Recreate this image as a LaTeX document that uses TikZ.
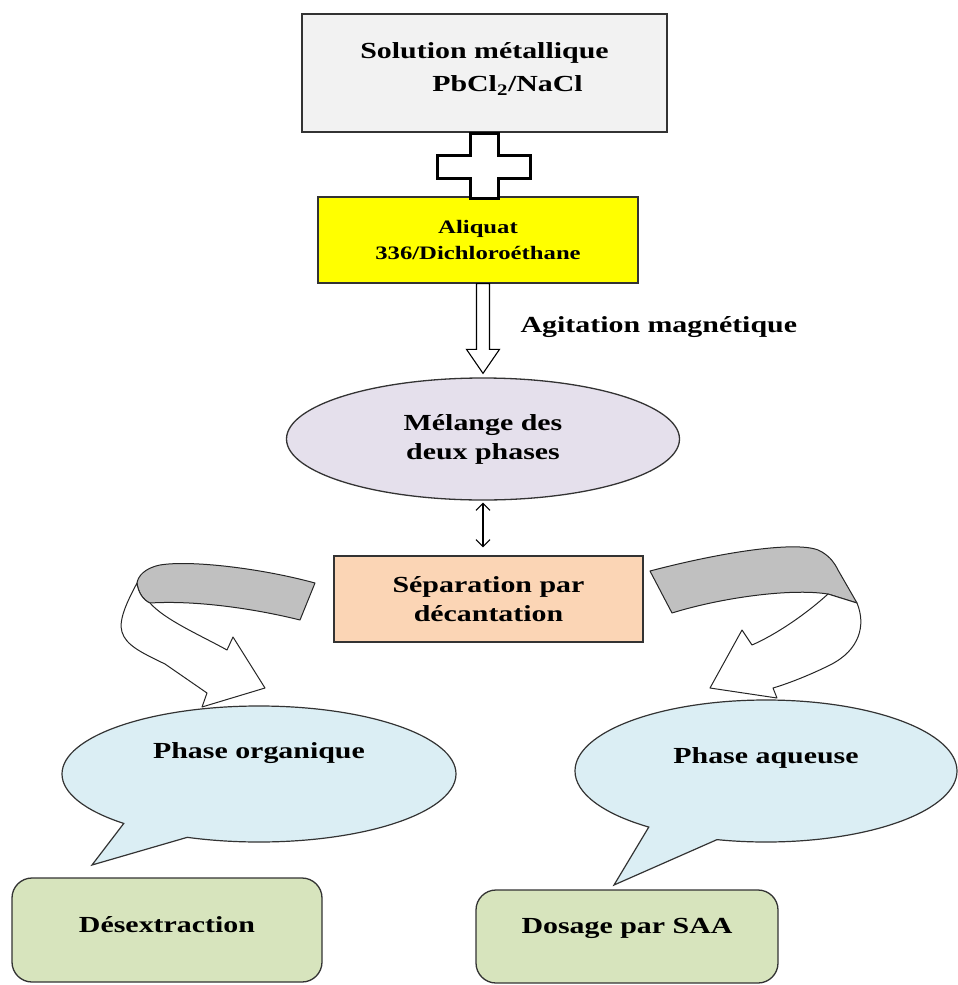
\documentclass[tikz,border=0pt]{standalone}
\usepackage{fontspec}
\setmainfont{Liberation Serif}[FakeStretch=1.3]
\usetikzlibrary{arrows.meta,positioning,shapes.geometric,shapes.callouts,calc}

\definecolor{boxgray}{HTML}{F2F2F2}
\definecolor{aliqyellow}{HTML}{FFFF00}
\definecolor{mixlilac}{HTML}{E5E0EC}
\definecolor{sepsalmon}{HTML}{FBD5B5}
\definecolor{phaseblue}{HTML}{DBEEF4}
\definecolor{stepgreen}{HTML}{D7E4BD}
\definecolor{ribbongray}{HTML}{C0C0C0}

\begin{document}
\begin{tikzpicture}[
  x=1pt, y=-1pt,
  >=Latex,
  txt/.style={font=\fontsize{23}{29}\selectfont\bfseries},
  box/.style={draw=black!80, line width=1.3pt, align=center, inner sep=3pt, txt},
  oval/.style={ellipse, draw=black!80, line width=1.3pt, fill=mixlilac, align=center, inner sep=0pt, txt},
  bubble/.style={ellipse callout, draw=black!80, line width=1.2pt, fill=phaseblue, inner sep=0pt},
  result/.style={draw=black!80, line width=1.3pt, rounded corners=20pt, fill=stepgreen, align=center, txt},
  hollow/.style={draw, fill=white, line width=1.1pt, line join=miter},
  plusline/.style={draw, fill=white, line width=3pt, line join=miter},
  dbl/.style={{Straight Barb[length=7pt,width=14pt]}-{Straight Barb[length=7pt,width=14pt]}, line width=1.1pt},
  ribbon/.style={draw=black!85, line width=1pt, line join=round},
]
\useasboundingbox (0,0) rectangle (958,985);

% --- inputs ---
\node[box, fill=boxgray, minimum width=365pt, minimum height=118pt, text depth=12pt,
  font=\fontsize{23}{33}\selectfont\bfseries] (sol) at (484.5,73)
  {Solution métallique\\\hspace*{46pt}PbCl\textsubscript{2}/NaCl};
\node[box, fill=aliqyellow, minimum width=320pt, minimum height=86pt,
  font=\fontsize{19}{26}\selectfont\bfseries] (aliq) at (478,240) {Aliquat\\336/Dichloroéthane};

% plus sign between the two
\coordinate (pc) at (484,165.5);
\begin{scope}[shift={(pc)}]
  \draw[plusline] (-14,-32.5) -- (14,-32.5) -- (14,-10.5) -- (46,-10.5) -- (46,12.5) -- (14,12.5)
    -- (14,32.5) -- (-14,32.5) -- (-14,12.5) -- (-47,12.5) -- (-47,-10.5) -- (-14,-10.5) -- cycle;
\end{scope}

% --- mixing ---
\node[oval, minimum width=393pt, minimum height=122pt] (mix) at (483,439) {Mélange des\\deux phases};

\coordinate (ha) at (mix.north |- aliq.south);
\coordinate (hb) at ($(mix.north)+(0,-4)$);
\draw[hollow] ($(ha)+(-6.5,0)$) -- ($(ha)+(6.5,0)$) -- ($(hb)+(6.5,-24)$) -- ($(hb)+(16.5,-24)$)
  -- (hb) -- ($(hb)+(-16.5,-24)$) -- ($(hb)+(-6.5,-24)$) -- cycle;
\node[txt, anchor=west] (agit) at (517,327) {Agitation magnétique};

% --- separation ---
\node[box, fill=sepsalmon, minimum width=309pt, minimum height=86pt] (sep) at (488.5,599) {Séparation par\\décantation};
\draw[dbl, shorten <=2pt, shorten >=8pt] (mix.south) -- (mix.south |- sep.north);

% --- phases ---
\node[bubble, minimum width=394pt, minimum height=136pt, callout absolute pointer={(92,865)},
  callout pointer arc=22, label={[txt, yshift=21pt]center:Phase organique}] (porg) at (259,774) {};
\node[bubble, minimum width=382pt, minimum height=142pt, callout absolute pointer={(614,885)},
  callout pointer arc=23, label={[txt, yshift=13pt]center:Phase aqueuse}] (paq) at (766,771) {};

% left ribbon arrow
\filldraw[ribbon, fill=ribbongray] (315,583) .. controls (260,568) and (190,560) .. (160,565)
  .. controls (145,568) and (138,576) .. (137,583)
  .. controls (138,592) and (143,600) .. (150,603)
  .. controls (200,600) and (260,610) .. (300,620) -- cycle;
\filldraw[ribbon, fill=white] (137,583) .. controls (128,600) and (118,620) .. (122,632)
  .. controls (126,645) and (140,652) .. (165,664) -- (207,693)
  -- (202,707) -- (265,688) -- (233,637) -- (227,650)
  .. controls (200,635) and (165,620) .. (150,603)
  .. controls (143,600) and (138,592) .. (137,583) -- cycle;

% right ribbon arrow
\filldraw[ribbon, fill=ribbongray] (650,571) .. controls (730,550) and (805,540) .. (822,552)
  .. controls (830,557) and (834,562) .. (838,570) -- (857,603) -- (828,594)
  .. controls (790,588) and (720,598) .. (672,613) -- cycle;
\filldraw[ribbon, fill=white] (857,603) .. controls (866,625) and (860,650) .. (830,665)
  .. controls (812,674) and (790,683) .. (773,688)
  -- (777,698) -- (710,688) -- (742,630) -- (752,645)
  .. controls (775,635) and (805,615) .. (828,594) -- cycle;

% --- results ---
\node[result, minimum width=310pt, minimum height=104pt, text depth=12pt] (desext) at (167,930) {Désextraction};
\node[result, minimum width=302pt, minimum height=93pt, text depth=21pt] (dosage) at (627,936.5) {Dosage par SAA};

\end{tikzpicture}
\end{document}
